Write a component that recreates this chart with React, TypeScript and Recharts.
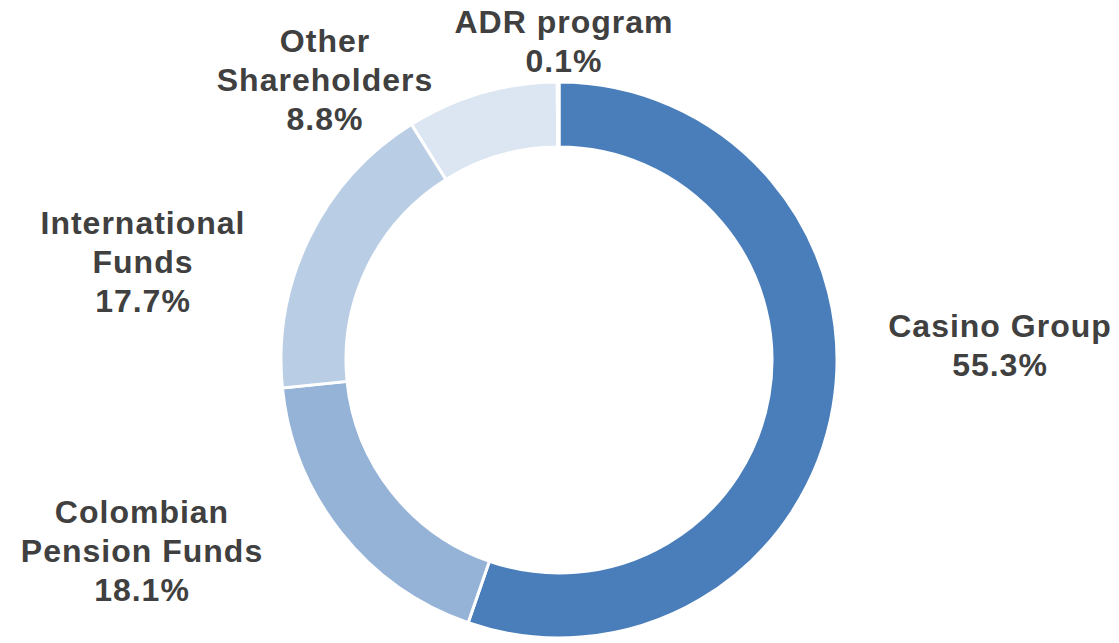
import { PieChart, Pie, Cell } from "recharts";

const holders = ["Casino Group", "Colombian Pension Funds", "International Funds", "Other Shareholders", "ADR program"];
const shares = [55.3, 18.1, 17.7, 8.8, 0.1];
const labelLines = [
  ["Casino Group", "55.3%"],
  ["Colombian", "Pension Funds", "18.1%"],
  ["International", "Funds", "17.7%"],
  ["Other", "Shareholders", "8.8%"],
  ["ADR program", "0.1%"],
];
const colors = ["#4A7EBB", "#95B3D7", "#B9CDE5", "#DCE6F2", "#EEF3FA"];

// where each label block sits, relative to the pie centre (x centre, first baseline)
const labelOffsets = [
  [441, -23],
  [-417, 163],
  [-416, -126],
  [-234, -308],
  [5, -327],
];

const data = holders.map((name, i) => ({ name, value: shares[i] }));

const LINE_GAP = 39;

function renderLabel(props: any) {
  const { cx, cy, index } = props;
  const [dx, dy] = labelOffsets[index];
  return (
    <text
      key={`lbl-${index}`}
      x={cx + dx}
      y={cy + dy}
      textAnchor="middle"
      fill="#404040"
      fontSize={32}
      fontWeight="bold"
      letterSpacing={1}
      fontFamily="'Liberation Sans', Arial, sans-serif"
    >
      {labelLines[index].map((line, j) => (
        <tspan key={j} x={cx + dx} dy={j === 0 ? 0 : LINE_GAP}>
          {line}
        </tspan>
      ))}
    </text>
  );
}

export default function App() {
  return (
    <div style={{ position: "absolute", left: 0, top: 0, width: 1119, height: 643, background: "#fff" }}>
      <PieChart width={1119} height={643} margin={{ top: 0, right: 0, bottom: 0, left: 0 }}>
        <Pie
          data={data}
          dataKey="value"
          nameKey="name"
          cx={559}
          cy={360}
          innerRadius={213}
          outerRadius={278}
          startAngle={90}
          endAngle={-270}
          stroke="#fff"
          strokeWidth={3}
          label={renderLabel}
          labelLine={false}
          isAnimationActive={false}
        >
          {data.map((d, i) => (
            <Cell key={d.name} fill={colors[i]} />
          ))}
        </Pie>
      </PieChart>
    </div>
  );
}
